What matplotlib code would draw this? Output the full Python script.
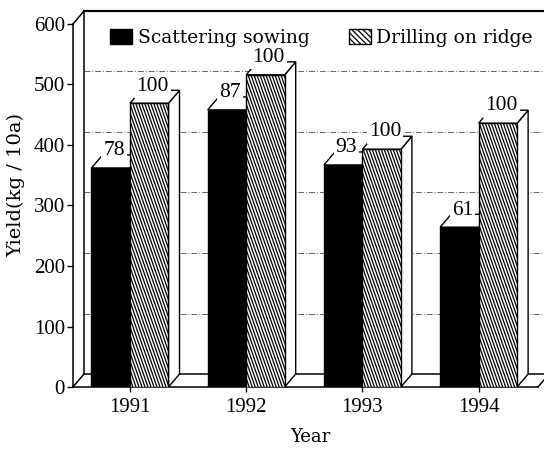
import numpy as np
import matplotlib
matplotlib.use('Agg')
import matplotlib.pyplot as plt
from matplotlib.patches import Polygon, Patch
from matplotlib.collections import LineCollection

# data
years = ['1991', '1992', '1993', '1994']
scatter = [362, 458, 367, 264]      # Scattering sowing, kg/10a
drill = [469, 516, 393, 436]        # Drilling on ridge, kg/10a
scatter_pct = ['78', '87', '93', '61']
drill_pct = ['100', '100', '100', '100']
yticks = [0, 100, 200, 300, 400, 500, 600]

plt.rcParams['font.family'] = 'DejaVu Serif'
W, H = 544, 449
fig = plt.figure(figsize=(W / 100, H / 100), dpi=100)
L, B, AW, AH = 73, 62, 465, 363
ax = fig.add_axes([L / W, B / H, AW / W, AH / H])
x0, x1 = -0.4905, 3.511
ax.set_xlim(x0, x1)
ax.set_ylim(0, 600)
sx = AW / (x1 - x0)   # px per x unit
sy = AH / 600         # px per y unit
dx = 11 / sx          # depth offset
dy = 13 / sy
bw = 38.5 / sx
xfar = x1 + 1

# back wall, floor and grid
lk = dict(color='black', lw=1.1, clip_on=False, zorder=1)
ax.plot([x0, x0 + dx], [600, 600 + dy], **lk)
ax.plot([x0 + dx, x0 + dx], [dy, 600 + dy], **lk)
ax.plot([x0 + dx, xfar], [600 + dy, 600 + dy], color='black', lw=1.6, clip_on=False, zorder=1)
ax.plot([x0 + dx, xfar], [dy, dy], **lk)
ax.plot([x0, x0 + dx], [0, dy], **lk)
ax.plot([x1, x1 + dx], [0, dy], **lk)
for v in yticks[1:-1]:
    ax.plot([x0 + dx, xfar], [v + dy, v + dy], color='0.4', lw=0.7,
            ls=(0, (6, 2, 1, 2)), clip_on=False, zorder=0.5)

x = np.arange(len(years))
b1 = ax.bar(x - bw / 2, scatter, bw, color='black', edgecolor='black', lw=1.0, zorder=3)
b2 = ax.bar(x + bw / 2, drill, bw, facecolor='white', edgecolor='black', lw=1.0, zorder=4)


def faces(rect, zo):
    xl = rect.get_x()
    xr = xl + rect.get_width()
    h = rect.get_height()
    for pts in ([[xr, 0], [xr + dx, dy], [xr + dx, h + dy], [xr, h]],
                [[xl, h], [xr, h], [xr + dx, h + dy], [xl + dx, h + dy]]):
        ax.add_patch(Polygon(pts, closed=True, fc='white', ec='black', lw=1.0,
                             zorder=zo, clip_on=False))


for r in b1:
    faces(r, 2.5)
for r in b2:
    faces(r, 3.5)
    xl = r.get_x()
    xr = xl + r.get_width()
    h = r.get_height()
    shift = h * sy * 0.35 / sx
    starts = np.arange(xl, xr + shift, 3 / sx)
    segs = [[(s, 0), (s - shift, h)] for s in starts]
    lc = LineCollection(segs, colors='black', lw=0.9, zorder=4.1)
    ax.add_collection(lc)
    lc.set_clip_path(r)

bb = dict(boxstyle='square,pad=0.1', fc='white', ec='none')
for bars, labs in ((b1, scatter_pct), (b2, drill_pct)):
    for r, t in zip(bars, labs):
        cx = r.get_x() + r.get_width() / 2 + 0.3 * dx
        ax.text(cx, r.get_height() + dy + 7, t, ha='center', va='center',
                fontsize=15.5, fontfamily='Liberation Serif', bbox=bb, zorder=6)

for s in ('top', 'right'):
    ax.spines[s].set_visible(False)
ax.spines['left'].set_linewidth(1.1)
ax.spines['bottom'].set_linewidth(1.1)

ax.set_yticks(yticks)
ax.set_yticklabels([str(v) for v in yticks], fontfamily='Liberation Serif', fontsize=15)
ax.set_xticks(x)
ax.set_xticklabels(years, fontfamily='Liberation Serif', fontsize=15)
ax.tick_params(axis='y', direction='out', length=4.3, width=1.0, pad=1.5)
ax.tick_params(axis='x', direction='out', length=3.6, width=1.0, pad=4)

ax.set_xlabel('Year', fontsize=13, va='top')
ax.xaxis.set_label_coords((310 - L) / AW, (387 - 428) / AH)
ax.set_ylabel('Yield(kg / 10a)', fontsize=14)
ax.yaxis.set_label_coords((25 - L) / AW, (387 - 185) / AH)

plt.rcParams['hatch.linewidth'] = 0.9
handles = [Patch(facecolor='black', edgecolor='black'),
           Patch(facecolor='white', edgecolor='black', hatch='\\\\\\\\\\\\')]
ax.legend(handles, ['Scattering sowing', 'Drilling on ridge'], ncol=2,
          loc='center left', bbox_to_anchor=(110 / W, 1 - 38 / H),
          bbox_transform=fig.transFigure, frameon=False, borderpad=0,
          borderaxespad=0, fontsize=13.5, handlelength=1.17, handleheight=0.85,
          handletextpad=0.3, columnspacing=2.1)

fig.savefig('out.png', dpi=100)
